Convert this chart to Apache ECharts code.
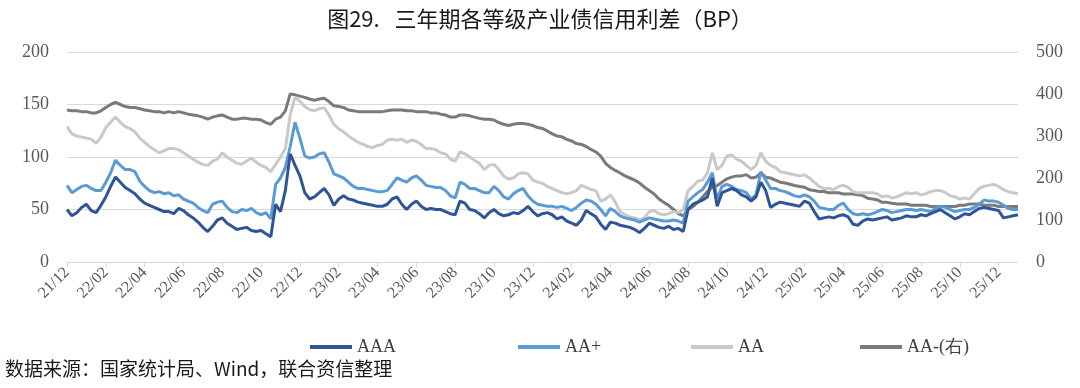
<!DOCTYPE html>
<html><head><meta charset="utf-8">
<script src="https://cdn.jsdelivr.net/npm/echarts@6/dist/echarts.min.js"></script>
<style>html,body{margin:0;padding:0;background:#fff}#c{width:1080px;height:388px}</style>
</head><body><div id="c"></div>
<script>
// month labels (each month sampled roughly weekly, 4 points)
const months = ['21/12','22/01','22/02','22/03','22/04','22/05','22/06','22/07','22/08','22/09','22/10','22/11','22/12',
 '23/01','23/02','23/03','23/04','23/05','23/06','23/07','23/08','23/09','23/10','23/11','23/12',
 '24/01','24/02','24/03','24/04','24/05','24/06','24/07','24/08','24/09','24/10','24/11','24/12',
 '25/01','25/02','25/03','25/04','25/05','25/06','25/07','25/08','25/09','25/10','25/11','25/12','26/01'];
const weeks = ['w1','w2','w3','w4'];
const seriesNames = ['AAA','AA+','AA','AA-(右)'];

const AAA = [50,44,47,52,55,49,47,54,62,72,81,76,71,68,65,60,56,54,52,50,48,48,46,51,49,45,42,38,33,29,34,40,42,37,34,31,32,33,30,29,
 30,27,24,55,48,68,103,92,82,66,60,62,66,70,64,54,60,63,60,59,57,56,55,54,53,53,55,60,62,55,50,55,58,53,50,51,50,50,48,46,
 45,58,56,50,49,46,42,47,50,46,44,45,47,46,49,53,48,44,46,47,45,41,43,39,37,35,40,49,46,43,36,31,38,37,35,34,33,31,28,32,
 37,35,33,32,34,31,32,29,50,55,57,59,62,80,53,66,68,70,68,64,62,58,62,76,68,52,55,57,56,55,54,53,58,56,48,41,42,43,42,44,
 45,43,36,35,39,41,40,41,42,43,40,41,42,44,43,43,45,44,46,48,50,47,44,41,43,46,45,48,51,52,51,50,49,42,43,44,45];
const AAplus = [73,66,69,72,73,70,68,68,76,85,97,92,88,88,86,77,72,68,66,67,65,66,63,64,60,58,56,52,49,47,55,57,58,52,48,47,50,49,51,47,
 45,47,41,74,80,90,110,133,118,101,99,100,103,104,95,84,82,80,76,72,70,70,69,68,67,67,68,74,80,78,76,80,82,78,73,72,71,71,68,63,
 61,76,74,70,70,68,66,66,72,68,62,60,65,68,70,63,58,55,54,53,53,52,53,51,49,52,56,59,58,55,50,44,51,48,44,42,41,40,38,40,
 42,41,40,39,39,40,39,37,58,62,66,69,76,85,60,72,74,72,69,68,66,60,64,86,78,70,70,68,67,65,63,62,64,62,58,52,51,50,50,54,
 56,50,46,45,46,45,46,48,50,49,47,48,49,50,50,49,50,49,48,51,53,52,50,48,49,50,50,52,55,59,58,58,57,54,51,50,50];
const AA = [129,122,120,119,118,117,113,119,128,133,138,133,129,127,124,118,114,110,107,104,106,108,108,107,104,101,98,95,93,92,96,98,104,100,97,94,93,96,99,95,
 92,90,86,93,100,108,140,157,153,148,145,144,146,147,140,131,127,124,120,117,114,112,110,109,111,112,116,117,116,117,114,116,115,112,108,108,107,104,103,98,
 96,105,103,100,97,94,88,92,93,88,82,79,80,84,85,84,78,76,75,72,70,68,66,65,66,68,73,71,69,68,58,60,64,57,48,45,43,42,40,42,
 48,49,46,45,46,48,47,50,68,72,77,78,85,104,88,92,101,102,98,96,92,88,92,104,96,92,90,86,85,84,83,82,83,80,76,72,70,70,69,72,
 73,71,67,66,66,66,66,65,62,63,61,62,64,66,65,66,64,65,67,68,68,66,63,62,60,61,60,65,70,72,73,74,72,69,67,66,65];
const AAminus = [362,360,360,358,358,355,355,360,368,375,380,375,370,368,368,365,362,360,358,358,355,358,355,358,355,352,350,348,345,340,345,348,350,345,340,340,342,342,340,340,
 338,332,328,340,345,360,400,398,395,392,388,385,388,390,382,372,370,368,362,360,358,358,358,358,358,358,360,362,362,362,360,360,358,358,358,355,355,352,350,345,
 345,350,350,348,345,342,340,340,338,332,328,325,328,330,330,328,325,320,318,312,305,300,298,292,288,282,280,275,268,262,252,235,225,218,212,205,200,195,188,178,
 170,162,150,142,135,125,115,110,125,132,142,155,168,178,182,190,198,202,205,205,208,200,202,212,202,200,195,190,188,185,182,180,178,172,170,168,168,165,165,165,
 162,162,162,160,158,152,150,148,142,142,140,138,138,138,135,135,135,135,132,132,132,132,132,132,135,135,138,138,138,135,135,135,132,132,132,132,132];

const categories = months.flatMap(m => weeks.map(w => m + '-' + w)).slice(0, AAA.length);

const chart = echarts.init(document.getElementById('c'), null, {renderer: 'canvas'});
const serif = '"Liberation Serif", "Times New Roman", serif';
const colors = ['#2F5597', '#5B9BD5', '#C9C9C9', '#7A7A7A'];
const legendX = [305, 513, 686, 855];
chart.setOption({
  animation: false,
  title: {
    text: '图29.   三年期各等级产业债信用利差（BP）',
    left: 'center', top: 3,
    textStyle: {fontFamily: '"Noto Sans CJK SC", sans-serif', fontSize: 22, fontWeight: 'normal', color: '#1a1a1a'}
  },
  legend: seriesNames.map((n, i) => ({
    data: [n], left: legendX[i], top: 333, icon: 'rect', itemWidth: 42, itemHeight: 4, itemGap: 5,
    textStyle: {fontFamily: serif, fontSize: 18, color: '#404040'}
  })),
  graphic: [{
    type: 'text', left: 5, top: 359,
    style: {text: '数据来源：国家统计局、Wind，联合资信整理', fontFamily: '"Noto Sans CJK SC", sans-serif', fontSize: 19, fill: '#1a1a1a'}
  }],
  grid: {left: 67, right: 62, top: 52, bottom: 126, containLabel: false},
  xAxis: {
    type: 'category', data: categories, boundaryGap: false,
    axisLine: {lineStyle: {color: '#D9D9D9', width: 1}},
    axisTick: {show: true, interval: 7, length: 5, lineStyle: {color: '#D9D9D9'}},
    axisLabel: {interval: 7, rotate: 45, margin: 8, fontFamily: serif, fontSize: 16, color: '#595959',
      formatter: v => v.split('-')[0]},
    splitLine: {show: false}
  },
  yAxis: [{
    type: 'value', min: 0, max: 200, interval: 50,
    axisLine: {show: false}, axisTick: {show: false},
    axisLabel: {margin: 18, fontFamily: serif, fontSize: 18, color: '#595959'},
    splitLine: {lineStyle: {color: '#D9D9D9', width: 1}}
  }, {
    type: 'value', min: 0, max: 500, interval: 100, position: 'right',
    axisLine: {show: false}, axisTick: {show: false},
    axisLabel: {margin: 18, fontFamily: serif, fontSize: 18, color: '#595959'},
    splitLine: {show: false}
  }],
  series: [
    {name: seriesNames[0], type: 'line', data: AAA, yAxisIndex: 0, showSymbol: false, color: colors[0], lineStyle: {width: 3}, z: 4},
    {name: seriesNames[1], type: 'line', data: AAplus, yAxisIndex: 0, showSymbol: false, color: colors[1], lineStyle: {width: 3}, z: 3},
    {name: seriesNames[2], type: 'line', data: AA, yAxisIndex: 0, showSymbol: false, color: colors[2], lineStyle: {width: 3}, z: 2},
    {name: seriesNames[3], type: 'line', data: AAminus, yAxisIndex: 1, showSymbol: false, color: colors[3], lineStyle: {width: 3}, z: 1}
  ]
});
</script></body></html>
